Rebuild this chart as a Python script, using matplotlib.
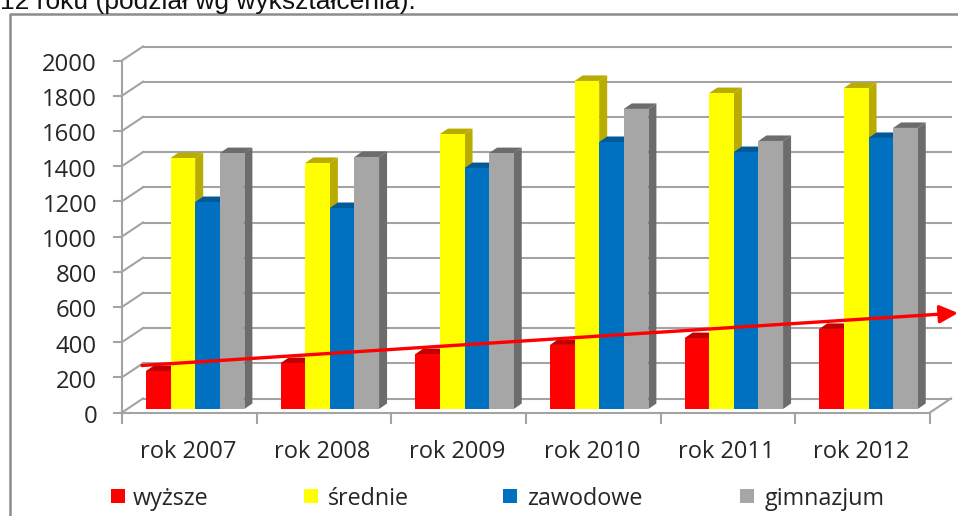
import numpy as np
import matplotlib
matplotlib.use("Agg")
import matplotlib.pyplot as plt
from matplotlib.patches import Polygon, Rectangle

categories = ["rok 2007", "rok 2008", "rok 2009", "rok 2010", "rok 2011", "rok 2012"]
wyzsze = [216, 261, 312, 364, 403, 455]
srednie = [1426, 1398, 1562, 1864, 1795, 1824]
zawodowe = [1176, 1142, 1369, 1517, 1460, 1540]
gimnazjum = [1454, 1432, 1454, 1705, 1523, 1597]
yticks = [0, 200, 400, 600, 800, 1000, 1200, 1400, 1600, 1800, 2000]

series = [("wyższe", wyzsze, "#ff0000", "#c00000"),
          ("średnie", srednie, "#ffff00", "#b8ac00"),
          ("zawodowe", zawodowe, "#0070c0", "#005a9a"),
          ("gimnazjum", gimnazjum, "#a6a6a6", "#6c6c6c")]

W, H = 958, 516
fig = plt.figure(figsize=(W / 100, H / 100), dpi=100)
plt.rcParams["font.family"] = ["Open Sans", "DejaVu Sans"]

# front plane of the fake 3d box, 122..930 px wide, 60..412 px high
ax = fig.add_axes([122 / W, 1 - 412.5 / H, 808 / W, 352 / H])
ax.set_xlim(0, 6)
ax.set_ylim(0, 2000)
ax.axis("off")

px = 6 / 808
py = 2000 / 352
grid = "#a3a3a3"
dx, dy = 21 * px, 14 * py

for v in yticks:
    ax.plot([0, dx], [v, v + dy], color=grid, lw=1.5, clip_on=False, zorder=1)
    ax.plot([dx, 6 + dx], [v + dy, v + dy], color=grid, lw=1.5, clip_on=False, zorder=1)
    ax.plot([-8 * px, 0], [v, v], color=grid, lw=1.5, clip_on=False, zorder=1)
    ax.text(-25 * px, v - 4.5 * py, str(v), ha="right", va="center", fontsize=17.2, color="#262626", clip_on=False)
ax.plot([0, 0], [0, 2000], color=grid, lw=1.5, clip_on=False, zorder=1)
ax.plot([0, 6], [0, 0], color=grid, lw=1.5, clip_on=False, zorder=1)
ax.plot([6, 6 + dx], [0, dy], color=grid, lw=1.5, clip_on=False, zorder=1)
for i in range(7):
    ax.plot([i, i], [0, -10 * py], color=grid, lw=1.5, clip_on=False, zorder=1)
for i, c in enumerate(categories):
    ax.text(i + 0.49, -40 * py, c, ha="center", va="center", fontsize=17, color="#262626", clip_on=False)

# bars, with side and top faces
bw = 24.6 * px
start = 24 * px
base = 3.5 * py
ox, oy = 8 * px, 5.5 * py
for s, (name, vals, col, dark) in enumerate(series):
    for i, v in enumerate(vals):
        x0 = i + start + s * bw
        top = base + v
        z = 3 + s
        ax.add_patch(Polygon([(x0, top), (x0 + ox, top + oy), (x0 + bw + ox, top + oy), (x0 + bw, top)],
                             fc=dark, ec="none", zorder=z, clip_on=False))
        ax.add_patch(Polygon([(x0 + bw, base), (x0 + bw + ox, base + oy), (x0 + bw + ox, top + oy), (x0 + bw, top)],
                             fc=dark, ec="none", zorder=z, clip_on=False))
        ax.bar(x0, v, bw, bottom=base, align="edge", color=col, zorder=z + 0.5, clip_on=False)

# trend arrow
ax.annotate("", xy=(836 * px, 99.5 * py), xytext=(20 * px, 47 * py), annotation_clip=False, zorder=10,
            arrowprops=dict(arrowstyle="-|>,head_length=1.1,head_width=0.54", color="#ff0000", lw=2.4, shrinkA=0, shrinkB=0))

# legend
leg_x = [111, 304, 503, 740]
txt_x = [133, 328, 527, 765]
for (name, vals, col, dark), lx, tx in zip(series, leg_x, txt_x):
    fig.add_artist(Rectangle((lx / W, 1 - 503 / H), 14 / W, 14 / H, fc=col, ec="none", transform=fig.transFigure))
    fig.text(tx / W, 1 - 499 / H, name, ha="left", va="center", fontsize=16.8, color="#262626")

# picture frame and clipped caption above it
fig.add_artist(plt.Line2D([10 / W, 10 / W, 1], [0, 1 - 14 / H, 1 - 14 / H], color="#8c8c8c", lw=1.8))
fig.text(0, 1 - 8.5 / H, "12 roku (podział wg wykształcenia).", ha="left", va="baseline", fontsize=19,
         family=["Liberation Sans"], color="#111111")

fig.savefig("out.png", dpi=100)
